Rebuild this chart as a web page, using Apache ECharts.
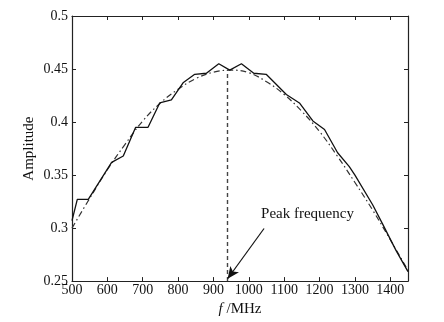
<!DOCTYPE html>
<html>
<head>
<meta charset="utf-8">
<script src="https://cdn.jsdelivr.net/npm/echarts@6/dist/echarts.min.js"></script>
<style>
html,body{margin:0;padding:0;background:#fff;}
#chart{width:444px;height:322px;}
</style>
</head>
<body>
<div id="chart"></div>
<script>
// Measured amplitude response (frequency in MHz, amplitude)
const measuredFreq = [500, 515, 546, 612, 645, 680, 715, 748, 781, 814, 847, 880, 915, 946, 979, 1014, 1049, 1106, 1143, 1181, 1214, 1251, 1284, 1300, 1350, 1378, 1416, 1450];
const measuredAmp  = [0.307, 0.327, 0.327, 0.362, 0.368, 0.395, 0.395, 0.418, 0.421, 0.437, 0.445, 0.446, 0.455, 0.449, 0.455, 0.446, 0.445, 0.426, 0.418, 0.401, 0.393, 0.371, 0.358, 0.350, 0.322, 0.304, 0.279, 0.259];

// Fitted curve
const fitFreq = [500, 550, 600, 650, 700, 750, 800, 850, 900, 950, 1000, 1050, 1100, 1150, 1200, 1250, 1300, 1350, 1400, 1450];
const fitAmp  = [0.300, 0.328, 0.355, 0.379, 0.401, 0.418, 0.431, 0.441, 0.447, 0.449, 0.4465, 0.438, 0.426, 0.410, 0.391, 0.368, 0.343, 0.317, 0.289, 0.260];

// Peak marker and annotation
const peakFreq = 940;
const peakAmp = 0.449;
const arrowStart = [1043, 0.2996];
const arrowEnd = [940, 0.2522];
const peakText = 'Peak frequency';

const xTicks = { min: 500, max: 1450, interval: 100 };
const yTicks = { min: 0.25, max: 0.5, interval: 0.05 };

const serif = 'Liberation Serif';
const chart = echarts.init(document.getElementById('chart'), null, { renderer: 'canvas' });

const axisCommon = {
  axisLine: { show: true, onZero: false, lineStyle: { color: '#222', width: 1.2 } },
  axisTick: { show: true, inside: true, length: 4, lineStyle: { color: '#222', width: 1 } },
  splitLine: { show: false }
};

chart.setOption({
  animation: false,
  backgroundColor: '#fff',
  grid: { left: 72, right: 36, top: 16, bottom: 39 },
  xAxis: [
    Object.assign({
      type: 'value', position: 'bottom',
      min: xTicks.min, max: xTicks.max, interval: xTicks.interval,
      name: '{i|f} /MHz', nameLocation: 'middle', nameGap: 16,
      nameTextStyle: {
        fontFamily: serif, fontSize: 15, color: '#111',
        rich: { i: { fontFamily: serif, fontStyle: 'italic', fontSize: 15, color: '#111' } }
      },
      axisLabel: {
        fontFamily: serif, fontSize: 14, color: '#111', margin: 2,
        showMaxLabel: false,
        formatter: v => (v === 1450 ? '' : String(v))
      }
    }, axisCommon),
    Object.assign({
      type: 'value', position: 'top',
      min: xTicks.min, max: xTicks.max, interval: xTicks.interval,
      axisLabel: { show: false }
    }, axisCommon)
  ],
  yAxis: [
    Object.assign({
      type: 'value', position: 'left',
      min: yTicks.min, max: yTicks.max, interval: yTicks.interval,
      name: 'Amplitude', nameLocation: 'middle', nameGap: 35,
      nameMoveOverlap: false,
      nameTextStyle: { fontFamily: serif, fontSize: 15, color: '#111' },
      axisLabel: { fontFamily: serif, fontSize: 14, color: '#111', margin: 4 }
    }, axisCommon),
    Object.assign({
      type: 'value', position: 'right',
      min: yTicks.min, max: yTicks.max, interval: yTicks.interval,
      axisLabel: { show: false }
    }, axisCommon)
  ],
  series: [
    {
      type: 'line',
      name: 'fit',
      data: fitFreq.map((f, i) => [f, fitAmp[i]]),
      smooth: 0.4,
      showSymbol: false,
      lineStyle: { color: '#333', width: 1.2, type: [6, 3, 1.5, 3] },
      z: 2
    },
    {
      type: 'line',
      name: 'measured',
      data: measuredFreq.map((f, i) => [f, measuredAmp[i]]),
      showSymbol: false,
      lineStyle: { color: '#111', width: 1.3 },
      z: 3,
      markLine: {
        silent: true,
        animation: false,
        label: { show: false },
        data: [
          [
            { coord: [peakFreq, yTicks.min], symbol: 'none' },
            { coord: [peakFreq, peakAmp], symbol: 'none',
              lineStyle: { color: '#444', width: 1.4, type: [4, 3] } }
          ],
          [
            { coord: arrowStart, symbol: 'none' },
            { coord: arrowEnd, symbol: 'arrow', symbolSize: [8, 12],
              lineStyle: { color: '#111', width: 1.2, type: 'solid' } }
          ]
        ]
      }
    }
  ]
});

// Annotation text placed above the arrow tail
const tail = chart.convertToPixel({ xAxisIndex: 0, yAxisIndex: 0 }, arrowStart);
chart.setOption({
  graphic: [{
    type: 'text',
    left: tail[0] - 3,
    top: tail[1] - 22,
    style: { text: peakText, fontFamily: serif, fontSize: 15, fill: '#111' }
  }]
});
</script>
</body>
</html>
